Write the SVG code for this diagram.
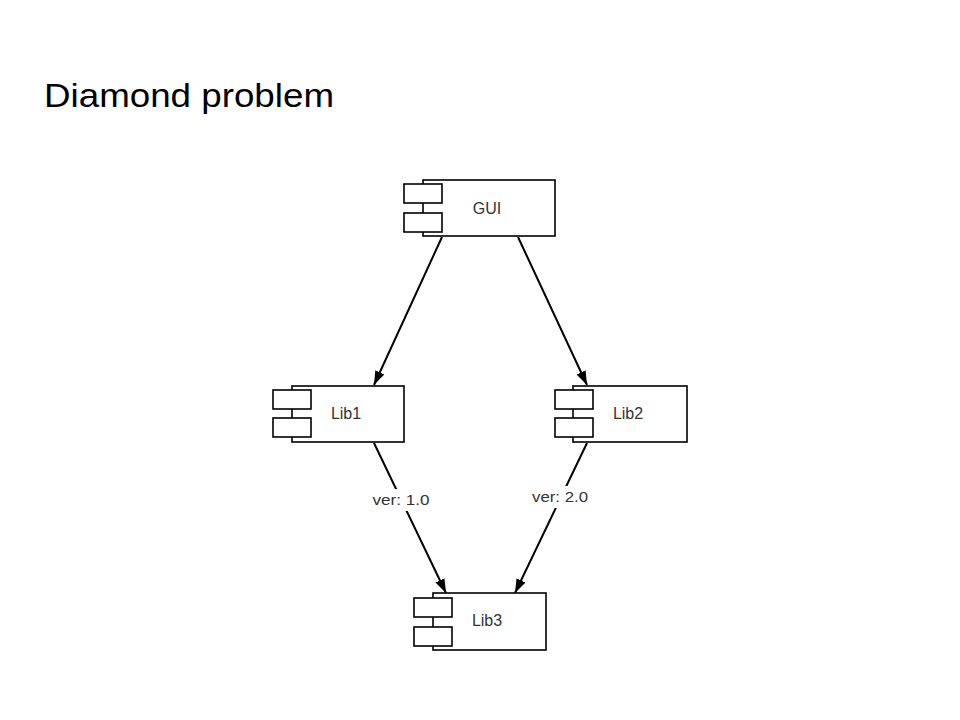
<svg xmlns="http://www.w3.org/2000/svg" width="960" height="720" viewBox="0 0 960 720">
<style>
.box{fill:#fff;stroke:#000;stroke-width:1.6}
.lbl{font-family:"Liberation Sans",Arial,sans-serif;font-size:16px;fill:#333;text-anchor:middle}
.elbl{font-family:"Liberation Sans",Arial,sans-serif;font-size:15px;fill:#333;text-anchor:middle}
.edge{stroke:#000;stroke-width:2;fill:none;marker-end:url(#arr)}
.title{font-family:"Liberation Sans",Arial,sans-serif;font-size:34px;fill:#000}
</style>
<defs>
<marker id="arr" viewBox="0 0 14 10" refX="14" refY="5" markerWidth="14" markerHeight="10" markerUnits="userSpaceOnUse" orient="auto">
<path d="M0,0 L14,5 L0,10 Z" fill="#000"/>
</marker>
</defs>
<rect width="960" height="720" fill="#fff"/>
<text class="title" x="44" y="107" textLength="290" lengthAdjust="spacingAndGlyphs">Diamond problem</text>
<g id="connectors">
<line class="edge" x1="442" y1="237" x2="374" y2="385"/>
<line class="edge" x1="518" y1="237" x2="587" y2="385"/>
<line class="edge" x1="374" y1="443" x2="446" y2="593"/>
<line class="edge" x1="587" y1="443" x2="515" y2="593"/>
<rect x="370" y="489" width="62" height="22" fill="#fff"/>
<rect x="529" y="486" width="62" height="22" fill="#fff"/>
<text class="elbl" x="401" y="505" textLength="57" lengthAdjust="spacingAndGlyphs">ver: 1.0</text>
<text class="elbl" x="560" y="502" textLength="56" lengthAdjust="spacingAndGlyphs">ver: 2.0</text>
</g>
<g id="GUI">
<rect class="box" x="423" y="180" width="132" height="56"/>
<rect class="box" x="404" y="184" width="38" height="19"/>
<rect class="box" x="404" y="213" width="38" height="19"/>
<text class="lbl" x="487" y="214">GUI</text>
</g>
<g id="Lib1">
<rect class="box" x="292" y="386" width="112" height="56"/>
<rect class="box" x="273" y="390" width="38" height="19"/>
<rect class="box" x="273" y="418" width="38" height="19"/>
<text class="lbl" x="346" y="419">Lib1</text>
</g>
<g id="Lib2">
<rect class="box" x="573" y="386" width="114" height="56"/>
<rect class="box" x="555" y="390" width="38" height="19"/>
<rect class="box" x="555" y="418" width="38" height="19"/>
<text class="lbl" x="628" y="419">Lib2</text>
</g>
<g id="Lib3">
<rect class="box" x="433" y="593" width="113" height="57"/>
<rect class="box" x="414" y="598" width="38" height="19"/>
<rect class="box" x="414" y="627" width="38" height="19"/>
<text class="lbl" x="487" y="626">Lib3</text>
</g>
</svg>
